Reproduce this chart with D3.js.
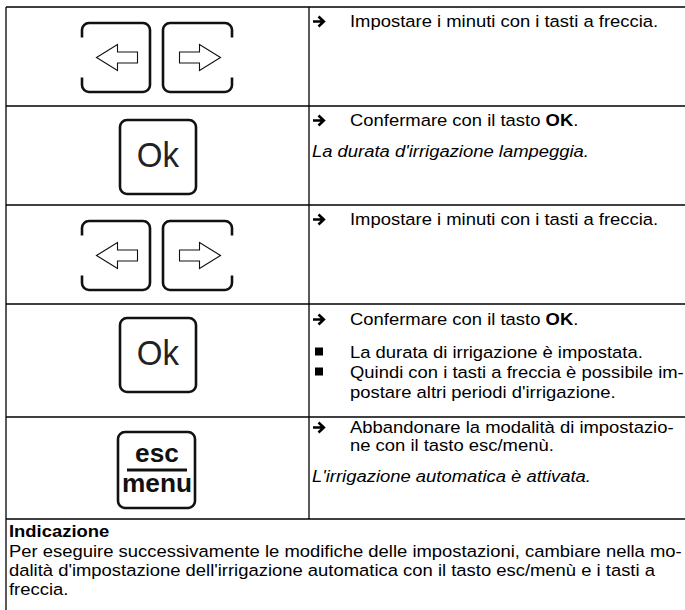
<!DOCTYPE html>
<html><head><meta charset="utf-8">
<script src="https://cdn.jsdelivr.net/npm/d3@7"></script>
<style>body{margin:0;background:#fff}svg{display:block}</style>
</head><body>
<script>
// ---------------- data ----------------
const rowKeys = ["arrows", "ok", "arrows", "ok", "escmenu"];
const row1Lines = [
  {mark: "arrow", parts: [["Impostare i minuti con i tasti a freccia.", 0]]}
];
const row2Lines = [
  {mark: "arrow", parts: [["Confermare con il tasto ", 0], ["OK", 1], [".", 0]]},
  {mark: "", italic: 1, parts: [["La durata d'irrigazione lampeggia.", 0]]}
];
const row3Lines = [
  {mark: "arrow", parts: [["Impostare i minuti con i tasti a freccia.", 0]]}
];
const row4Lines = [
  {mark: "arrow", parts: [["Confermare con il tasto ", 0], ["OK", 1], [".", 0]]},
  {mark: "bullet", parts: [["La durata di irrigazione è impostata.", 0]]},
  {mark: "bullet", parts: [["Quindi con i tasti a freccia è possibile im-", 0]]},
  {mark: "cont", parts: [["postare altri periodi d'irrigazione.", 0]]}
];
const row5Lines = [
  {mark: "arrow", parts: [["Abbandonare la modalità di impostazio-", 0]]},
  {mark: "cont", parts: [["ne con il tasto esc/menù.", 0]]},
  {mark: "", italic: 1, parts: [["L'irrigazione automatica è attivata.", 0]]}
];
const rowLines = [row1Lines, row2Lines, row3Lines, row4Lines, row5Lines];
const okLabel = ["Ok"];
const escMenuLabel = ["esc", "menu"];
const noteTitle = "Indicazione";
const noteLines = [
  "Per eseguire successivamente le modifiche delle impostazioni, cambiare nella mo-",
  "dalità d'impostazione dell'irrigazione automatica con il tasto esc/menù e i tasti a",
  "freccia."
];

// ---------------- layout ----------------
const W = 685, H = 610;
const rowHeights = [99, 99, 99, 113, 102];
const tableTop = 7, tableLeft = 6, colX = 309;
const rowTops = [];
rowHeights.reduce((acc, h) => { rowTops.push(acc); return acc + h; }, tableTop);
const tableBottom = tableTop + d3.sum(rowHeights);
const rowY = d3.scaleOrdinal().domain(d3.range(rowKeys.length)).range(rowTops);
const lineOffsets = [[20], [20, 51], [20], [21, 54, 74, 94], [16, 34, 65]];
const keyCenterOffset = {arrows: 50.5, ok: 51, escmenu: 53};
const FONT = "'Liberation Sans', Arial, Helvetica, sans-serif";
const FS = 17.4, SX = 1.06;
const ink = "#111";

const svg = d3.select("body").append("svg").attr("width", W).attr("height", H)
  .style("font-family", FONT);

// grid lines
const g = svg.append("g").attr("stroke", "#000").attr("stroke-width", 1.3);
const hEdges = rowTops.concat([tableBottom]);
g.selectAll("line.h").data(hEdges).join("line").attr("class", "h")
  .attr("x1", tableLeft).attr("x2", W).attr("y1", d => d).attr("y2", d => d);
g.append("line").attr("x1", tableLeft).attr("x2", tableLeft).attr("y1", tableTop).attr("y2", H);
g.append("line").attr("x1", colX).attr("x2", colX).attr("y1", tableTop).attr("y2", tableBottom);

// key frames
function arrowKeyPath(cx, cy, w, h, r, gapSide, gapHalf) {
  const x0 = cx - w / 2, x1 = cx + w / 2, y0 = cy - h / 2, y1 = cy + h / 2;
  const ga = cy - gapHalf, gb = cy + gapHalf;
  if (gapSide === "left") {
    return `M${x0},${gb}L${x0},${y1 - r}A${r},${r} 0 0 0 ${x0 + r},${y1}L${x1 - r},${y1}` +
      `A${r},${r} 0 0 0 ${x1},${y1 - r}L${x1},${y0 + r}A${r},${r} 0 0 0 ${x1 - r},${y0}` +
      `L${x0 + r},${y0}A${r},${r} 0 0 0 ${x0},${y0 + r}L${x0},${ga}`;
  }
  return `M${x1},${ga}L${x1},${y0 + r}A${r},${r} 0 0 0 ${x1 - r},${y0}L${x0 + r},${y0}` +
    `A${r},${r} 0 0 0 ${x0},${y0 + r}L${x0},${y1 - r}A${r},${r} 0 0 0 ${x0 + r},${y1}` +
    `L${x1 - r},${y1}A${r},${r} 0 0 0 ${x1},${y1 - r}L${x1},${gb}`;
}
function arrowShape(cx, cy, dir) {
  const pts = [[-20, 0], [1, -13], [1, -5.5], [21, -5.5], [21, 5.5], [1, 5.5], [1, 13]];
  return "M" + pts.map(p => [cx + dir * p[0], cy + p[1]].join(",")).join("L") + "Z";
}

const keys = svg.append("g");
rowKeys.forEach((k, i) => {
  const cy = rowY(i) + keyCenterOffset[k];
  if (k === "arrows") {
    keys.append("path").attr("d", arrowKeyPath(116, cy, 68, 69, 7, "left", 20))
      .attr("fill", "none").attr("stroke", ink).attr("stroke-width", 2.6);
    keys.append("path").attr("d", arrowKeyPath(197.5, cy, 69, 69, 7, "right", 20))
      .attr("fill", "none").attr("stroke", ink).attr("stroke-width", 2.6);
    keys.append("path").attr("d", arrowShape(116.5, cy, 1))
      .attr("fill", "none").attr("stroke", ink).attr("stroke-width", 1.1).attr("stroke-linejoin", "miter");
    keys.append("path").attr("d", arrowShape(200.5, cy, -1))
      .attr("fill", "none").attr("stroke", ink).attr("stroke-width", 1.1).attr("stroke-linejoin", "miter");
  } else if (k === "ok") {
    keys.append("rect").attr("x", 158 - 38).attr("y", cy - 37).attr("width", 76).attr("height", 74)
      .attr("rx", 7).attr("fill", "none").attr("stroke", ink).attr("stroke-width", 2.6);
    keys.append("text").attr("transform", `translate(158,${cy + 10}) scale(0.92,1)`)
      .attr("text-anchor", "middle").attr("font-size", 36).attr("fill", "#222").text(okLabel[0]);
  } else {
    keys.append("rect").attr("x", 156.5 - 38.5).attr("y", cy - 38).attr("width", 77).attr("height", 76)
      .attr("rx", 7).attr("fill", "none").attr("stroke", ink).attr("stroke-width", 2.6);
    keys.append("text").attr("transform", `translate(157,${cy - 8}) scale(1.05,1)`)
      .attr("text-anchor", "middle").attr("font-size", 25).attr("font-weight", "bold").attr("fill", ink)
      .text(escMenuLabel[0]);
    keys.append("line").attr("x1", 127).attr("x2", 187).attr("y1", cy).attr("y2", cy)
      .attr("stroke", ink).attr("stroke-width", 3);
    keys.append("text").attr("transform", `translate(157,${cy + 22}) scale(1.05,1)`)
      .attr("text-anchor", "middle").attr("font-size", 25).attr("font-weight", "bold").attr("fill", ink)
      .text(escMenuLabel[1]);
  }
});

// instruction text
const txt = svg.append("g").attr("fill", "#000").attr("font-size", FS);
rowLines.forEach((lines, i) => {
  lines.forEach((ln, j) => {
    const base = rowY(i) + lineOffsets[i][j];
    if (ln.mark === "arrow") {
      const cy = base - 5.5;
      txt.append("path").attr("d", `M313,${cy}L323,${cy}M318.5,${cy - 5}L323.8,${cy}L318.5,${cy + 5}`)
        .attr("fill", "none").attr("stroke", "#000").attr("stroke-width", 2.6);
    } else if (ln.mark === "bullet") {
      txt.append("rect").attr("x", 315).attr("y", base - 10.5).attr("width", 8).attr("height", 8).attr("fill", "#000");
    }
    const x = (ln.mark === "") ? 312 : 350;
    const t = txt.append("text").attr("transform", `translate(${x},${base}) scale(${SX},1)`)
      .attr("font-style", ln.italic ? "italic" : "normal");
    t.selectAll("tspan").data(ln.parts).join("tspan")
      .attr("font-weight", d => d[1] ? "bold" : "normal").text(d => d[0]);
  });
});

// note
const noteTop = tableBottom;
svg.append("text").attr("transform", `translate(9,${noteTop + 18}) scale(${SX},1)`)
  .attr("font-size", FS).attr("font-weight", "bold").text(noteTitle);
svg.append("g").selectAll("text").data(noteLines).join("text")
  .attr("transform", (d, i) => `translate(9,${noteTop + 37.5 + i * 19}) scale(${SX},1)`)
  .attr("font-size", FS).text(d => d);
</script>
</body></html>
